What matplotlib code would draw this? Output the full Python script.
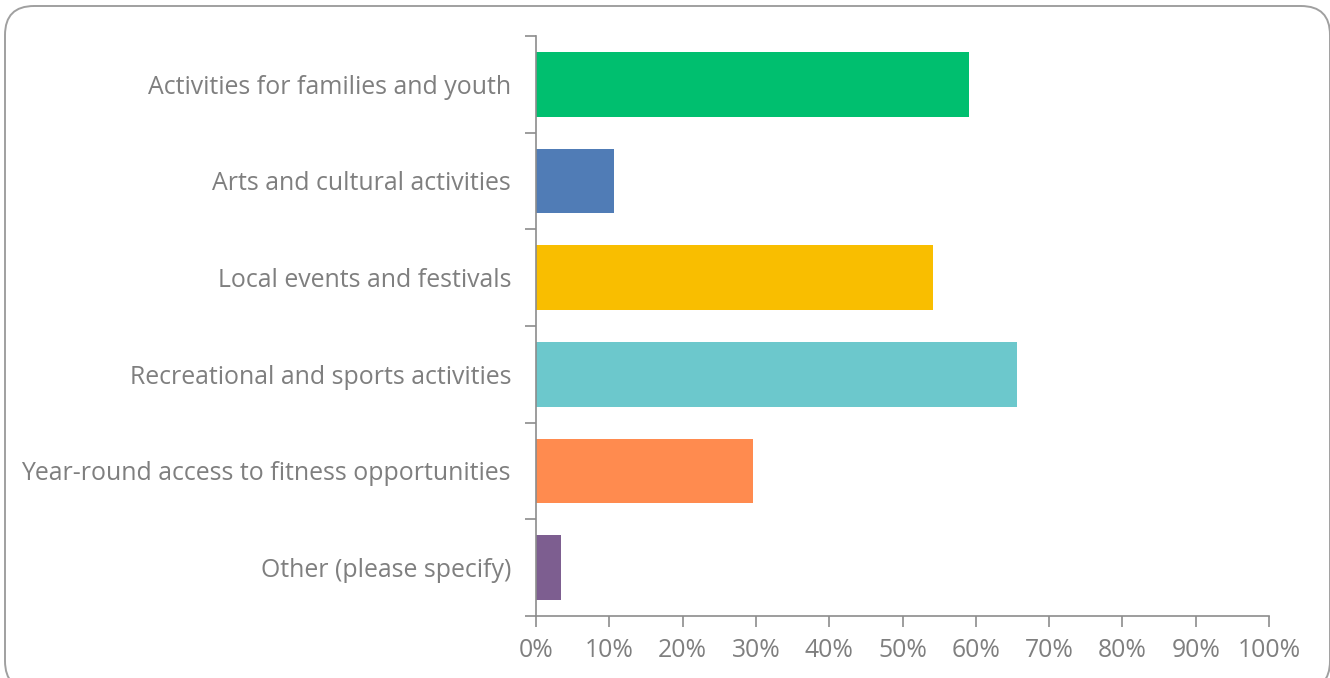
import matplotlib.pyplot as plt
from matplotlib.patches import FancyBboxPatch
from matplotlib.ticker import FuncFormatter

# Survey results: share of respondents choosing each option
categories = [
    "Activities for families and youth",
    "Arts and cultural activities",
    "Local events and festivals",
    "Recreational and sports activities",
    "Year-round access to fitness opportunities",
    "Other (please specify)",
]
shares = [59.1, 10.7, 54.2, 65.6, 29.6, 3.4]
colors = ["#00BF6F", "#507CB6", "#F9BE00", "#6CC8CC", "#FF8B4F", "#7D5E90"]

grey_text = "#7F7F7F"
grey_line = "#8C8C8C"

plt.rcParams['font.family'] = ['Open Sans', 'DejaVu Sans']

W, H = 1330, 678
fig = plt.figure(figsize=(W / 100, H / 100), dpi=100)

# rounded frame around the chart (runs slightly past the bottom edge)
frame = FancyBboxPatch((5 / W, -12 / H), 1325 / W, 684 / H,
                       boxstyle="round,pad=0,rounding_size=%f" % (29 / W),
                       transform=fig.transFigure, facecolor="none",
                       edgecolor="#A0A0A0", linewidth=1.4,
                       mutation_aspect=W / H, zorder=-1)
fig.patches.append(frame)

ax = fig.add_axes([536 / W, 62 / H, 733 / W, 580 / H])
ax.set_facecolor("none")

ypos = list(range(len(categories)))
ax.barh(ypos, shares, height=0.67, color=colors)

ax.set_xlim(0, 100)
ax.set_ylim(len(categories) - 0.5, -0.5)

ax.set_xticks(range(0, 101, 10))
ax.xaxis.set_major_formatter(FuncFormatter(lambda v, _: f"{int(v)}%"))
ax.tick_params(axis="x", length=8, width=1.2, color=grey_line,
               labelcolor=grey_text, labelsize=17.8, pad=8)

# category boundaries get the tick marks, centres get the labels
ax.set_yticks([i - 0.5 for i in range(len(categories) + 1)])
ax.set_yticklabels([])
ax.set_yticks(ypos, minor=True)
ax.set_yticklabels(categories, minor=True)
ax.tick_params(axis="y", which="major", length=8, width=1.2, color=grey_line)
ax.tick_params(axis="y", which="minor", length=0, pad=18,
               labelcolor=grey_text, labelsize=17.9)

for side in ["top", "right"]:
    ax.spines[side].set_visible(False)
for side in ["left", "bottom"]:
    ax.spines[side].set_color(grey_line)
    ax.spines[side].set_linewidth(1.2)

fig.savefig("out.png", dpi=100)
